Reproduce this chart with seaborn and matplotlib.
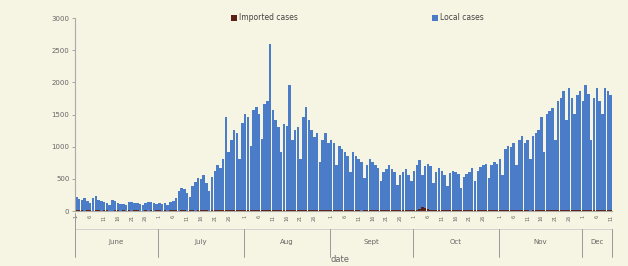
import numpy as np
import pandas as pd
import matplotlib
matplotlib.use("Agg")
import matplotlib.pyplot as plt
import matplotlib.transforms as mtransforms
import seaborn as sns

# ---- data (daily, 1 June - 11 Dec) ----
local_jun = [210, 180, 160, 190, 150, 120, 200, 220, 170, 150, 130, 110, 90, 160, 140,
             120, 110, 100, 80, 130, 140, 120, 110, 100, 90, 120, 140, 130, 110, 100]
local_jul = [120, 100, 110, 90, 130, 150, 200, 300, 350, 340, 280, 200, 380, 450,
             500, 480, 550, 420, 300, 520, 600, 700, 650, 800, 1450, 900, 1100, 1250,
             1200, 800, 1350]
local_aug = [1500, 1450, 1000, 1550, 1600, 1500, 1100, 1650, 1700, 2580, 1550, 1400, 1300, 900,
             1350, 1300, 1950, 1100, 1250, 1300, 800, 1450, 1600, 1400, 1250, 1150, 1200, 750,
             1100, 1200, 1050]
local_sep = [1100, 1050, 700, 1000, 950, 900, 850, 600, 900, 850, 800, 750, 500, 700,
             800, 750, 700, 650, 450, 600, 650, 700, 650, 600, 400, 550, 600, 650, 550, 450]
local_oct = [600, 700, 750, 500, 650, 700, 680, 420, 600, 650, 620, 550, 380, 580,
             620, 600, 560, 350, 520, 560, 600, 650, 450, 620, 680, 700, 720, 500,
             700, 750, 720]
local_nov = [800, 550, 950, 1000, 980, 1050, 700, 1100, 1150, 1050, 1100, 800, 1150, 1200,
             1250, 1450, 900, 1500, 1550, 1600, 1100, 1700, 1750, 1850, 1400, 1900, 1750, 1500,
             1800, 1850]
local_dec = [1700, 1950, 1800, 1100, 1750, 1900, 1700, 1500, 1900, 1850, 1800]

imported_jun = [10, 8, 12, 6, 9, 11, 7, 10, 8, 6, 9, 12, 7, 5, 8, 10, 6, 9, 7, 8,
                6, 10, 9, 7, 5, 8, 6, 9, 7, 8]
imported_jul = [9, 7, 10, 6, 8, 12, 9, 7, 10, 8, 6, 11, 9, 7, 8, 10, 12, 9, 7, 15,
                18, 14, 12, 10, 16, 13, 11, 9, 12, 10, 14]
imported_aug = [12, 10, 15, 13, 11, 9, 14, 12, 10, 16, 13, 11, 9, 12, 10, 14, 12, 10, 8, 11,
                13, 10, 9, 12, 11, 8, 10, 9, 11, 12, 10]
imported_sep = [10, 9, 11, 8, 10, 12, 9, 8, 11, 10, 9, 7, 10, 12, 9, 8, 10, 11, 9, 8,
                10, 12, 9, 8, 11, 10, 9, 8, 10, 12]
imported_oct = [14, 20, 35, 55, 45, 25, 15, 12, 10, 11, 9, 8, 10, 12, 9, 8, 10, 11, 9, 8,
                10, 12, 9, 8, 11, 10, 9, 8, 10, 12, 9]
imported_nov = [10, 9, 11, 8, 10, 12, 9, 8, 11, 10, 9, 7, 10, 12, 9, 8, 10, 11, 9, 8,
                10, 12, 9, 8, 11, 10, 9, 8, 10, 12]
imported_dec = [10, 9, 11, 8, 10, 12, 9, 8, 11, 10, 9]

month_names = ["June", "July", "Aug", "Sept", "Oct", "Nov", "Dec"]
month_days = [30, 31, 31, 30, 31, 30, 11]
day_labels = [1, 6, 11, 16, 21, 26]

local = local_jun + local_jul + local_aug + local_sep + local_oct + local_nov + local_dec
imported = imported_jun + imported_jul + imported_aug + imported_sep + imported_oct + imported_nov + imported_dec
n = len(local)
idx = list(range(n))
df = pd.DataFrame({"day": idx, "local": local, "imported": imported})
df["total"] = df["local"] + df["imported"]

day_of_month = []
for m, nd in enumerate(month_days):
    day_of_month += list(range(1, nd + 1))

# ---- style ----
BG = "#f6f4e2"
BLUE = "#4a7cc8"
BROWN = "#5b1f14"
GREY = "#666666"

sns.set_theme(style="white")
plt.rcParams["font.family"] = ["DejaVu Sans"]

fig = plt.figure(figsize=(6.28, 2.66), dpi=100, facecolor=BG)
ax = fig.add_axes([75 / 628, 1 - 211 / 266, 537 / 628, 193 / 266])
ax.set_facecolor(BG)

sns.barplot(data=df, x="day", y="total", color=BLUE, width=0.9, saturation=1,
            ax=ax, label="Local cases", order=idx, linewidth=0)
sns.barplot(data=df, x="day", y="imported", color=BROWN, width=0.9, saturation=1,
            ax=ax, label="Imported cases", order=idx, linewidth=0)

ax.set_xlim(-0.5, n - 0.5)
ax.set_ylim(0, 3000)
ax.set_yticks([0, 500, 1000, 1500, 2000, 2500, 3000])
ax.set_yticklabels(["0", "500", "1000", "1500", "2000", "2500", "3000"], fontsize=5, color=GREY)
ax.tick_params(axis="y", length=2, width=0.6, color="#999999", pad=2, left=True)
ax.set_ylabel("")

for s in ["top", "right"]:
    ax.spines[s].set_visible(False)
ax.spines["left"].set_color("#aaaaaa")
ax.spines["left"].set_linewidth(0.8)
ax.spines["bottom"].set_color("#aaaaaa")
ax.spines["bottom"].set_linewidth(0.8)

# day labels row
tick_pos = [i for i in idx if day_of_month[i] in day_labels]
ax.set_xticks(tick_pos)
ax.set_xticklabels([str(day_of_month[i]) for i in tick_pos], rotation=90, fontsize=3.5, color=GREY)
ax.tick_params(axis="x", length=0, pad=3, bottom=False)
ax.set_xlabel("")

trans = mtransforms.blended_transform_factory(ax.transData, ax.transAxes)
y_top_row = -0.01
y_mid = -(229 - 211) / 193
y_bot = -(257 - 211) / 193
ax.plot([-0.5, n - 0.5], [y_mid, y_mid], transform=trans, color="#cccccc", lw=0.6, clip_on=False)
start = 0
bounds = [-0.5]
for nd in month_days:
    start += nd
    bounds.append(start - 0.5)
for b in bounds:
    ax.plot([b, b], [y_top_row if b == -0.5 else y_mid, y_bot], transform=trans,
            color="#999999", lw=0.7, clip_on=False)
for m, name in enumerate(month_names):
    cx = (bounds[m] + bounds[m + 1]) / 2
    ax.text(cx, -(242 - 211) / 193, name, transform=trans, ha="center", va="center",
            fontsize=5, color=GREY)
ax.text(n * 0.49, -(260 - 211) / 193, "date", transform=trans, ha="center", va="center",
        fontsize=6, color=GREY)

handles, labels = ax.get_legend_handles_labels()
order = [labels.index("Imported cases"), labels.index("Local cases")]
leg = ax.legend([handles[i] for i in order], [labels[i] for i in order], ncol=2,
                loc="center left", bbox_to_anchor=((224 - 75) / 537, 1.0),
                frameon=False, fontsize=5.5, handlelength=0.8, handleheight=0.8,
                handletextpad=0.3, columnspacing=17.5, labelcolor="#444444")

fig.savefig("out.png", dpi=100, facecolor=BG)
